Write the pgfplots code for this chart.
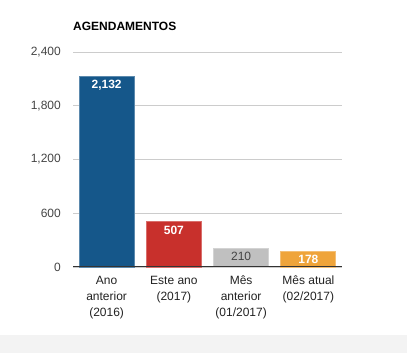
\documentclass[border=0pt]{standalone}
\usepackage{pgfplots}
\pgfplotsset{compat=1.18}
\usepackage{fontspec}
\setmainfont{Liberation Sans}
\definecolor{cblue}{HTML}{15578A}
\definecolor{cred}{HTML}{C8302C}
\definecolor{cgray}{HTML}{C0C0C0}
\definecolor{corange}{HTML}{EFA43A}
\definecolor{cstrip}{HTML}{F3F3F3}
\definecolor{cgrid}{HTML}{CCCCCC}
\definecolor{ctick}{HTML}{444444}
\definecolor{cxl}{HTML}{222222}
\begin{document}
\begin{tikzpicture}[x=1pt,y=1pt]
\path[use as bounding box] (0,0) rectangle (407,353);
\fill[cstrip] (0,0) rectangle (407,18);
\node[anchor=base west, inner sep=0pt, font=\fontsize{12}{14}\selectfont\bfseries] at (73,322.5) {AGENDAMENTOS};
\begin{axis}[
  at={(73pt,86pt)}, anchor=south west,
  scale only axis, width=269pt, height=215pt,
  xmin=-0.5, xmax=3.5, ymin=0, ymax=2400,
  ytick={0,600,1200,1800,2400},
  scaled y ticks=false,
  /pgf/number format/.cd, 1000 sep={,}, assume math mode=true, /pgfplots/.cd,
  ymajorgrids, grid style={color=cgrid, line width=0.8pt},
  axis line style={draw=none},
  tick style={draw=none},
  major tick length=0pt,
  yticklabel style={font=\fontsize{12}{14}\selectfont, text=ctick, anchor=east, inner sep=0pt, xshift=-12pt},
  xtick={0,1,2,3},
  xticklabels={{Ano\\anterior\\(2016)},{Este ano\\(2017)},{Mês\\anterior\\(01/2017)},{Mês atual\\(02/2017)}},
  xticklabel style={align=center, font=\fontsize{12}{16}\selectfont, text=cxl, anchor=north, inner sep=0pt, yshift=-9pt},
  ybar, bar width=55pt,
  clip=false,
]
\addplot[bar shift=0pt, fill=cblue, draw=cblue!70!white, line width=0.8pt,
  nodes near coords={\pgfmathprintnumber[1000 sep={,}]{\pgfplotspointmeta}},
  every node near coord/.style={anchor=north, inner sep=0pt, yshift=-4pt, text=white, font=\fontsize{12}{14}\selectfont\bfseries}]
  coordinates {(0,2132)};
\addplot[bar shift=0pt, fill=cred, draw=cred!70!white, line width=0.8pt,
  nodes near coords={\pgfmathprintnumber[1000 sep={,}]{\pgfplotspointmeta}},
  every node near coord/.style={anchor=north, inner sep=0pt, yshift=-4pt, text=white, font=\fontsize{12}{14}\selectfont\bfseries}]
  coordinates {(1,507)};
\addplot[bar shift=0pt, fill=cgray, draw=cgray!70!white, line width=0.8pt,
  nodes near coords={\pgfmathprintnumber[1000 sep={,}]{\pgfplotspointmeta}},
  every node near coord/.style={anchor=north, inner sep=0pt, yshift=-4pt, text=ctick, font=\fontsize{12}{14}\selectfont}]
  coordinates {(2,210)};
\addplot[bar shift=0pt, fill=corange, draw=corange!70!white, line width=0.8pt,
  nodes near coords={\pgfmathprintnumber[1000 sep={,}]{\pgfplotspointmeta}},
  every node near coord/.style={anchor=north, inner sep=0pt, yshift=-4pt, text=white, font=\fontsize{12}{14}\selectfont\bfseries}]
  coordinates {(3,178)};
\draw[color=black!80, line width=1pt] (axis cs:-0.5,0) -- (axis cs:3.5,0);
\end{axis}
\end{tikzpicture}
\end{document}
